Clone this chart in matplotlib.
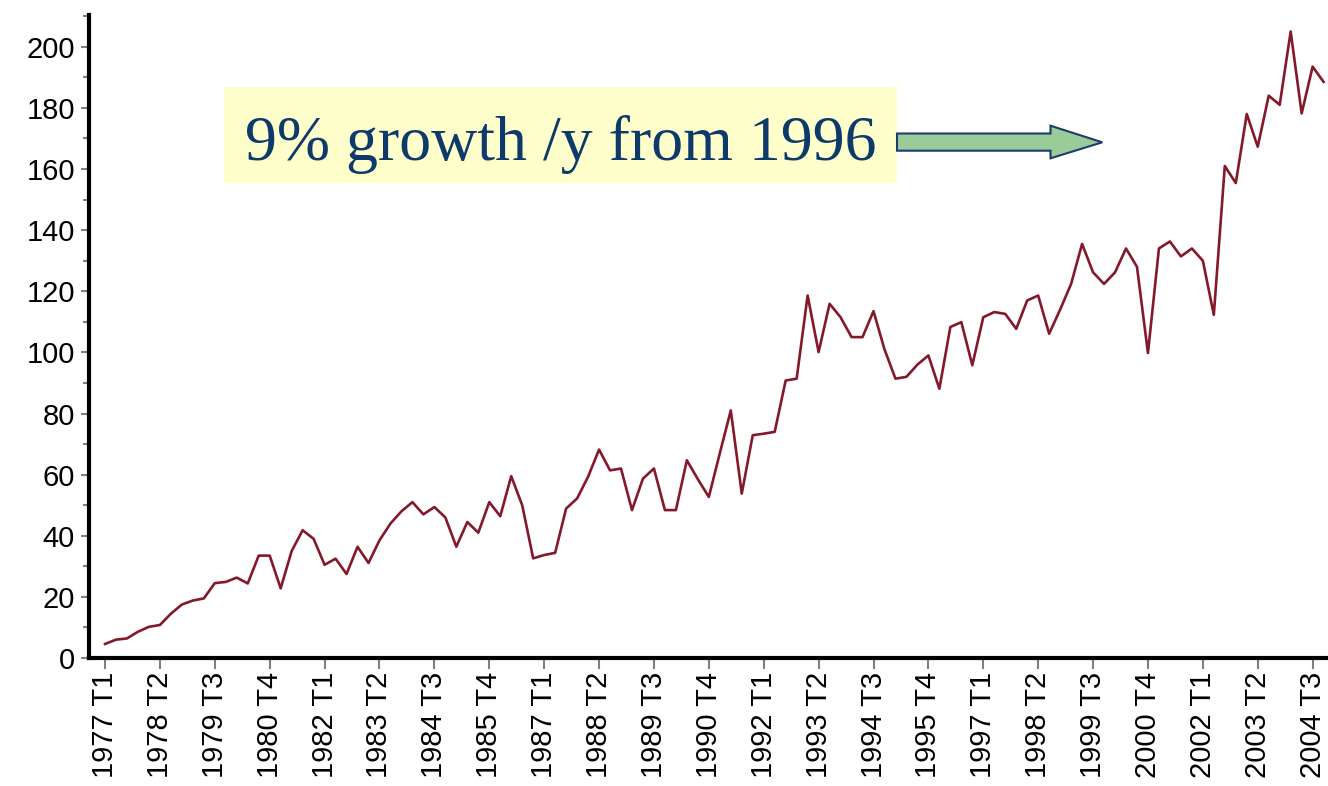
import matplotlib
matplotlib.use("Agg")
import matplotlib.pyplot as plt
from matplotlib import patches, transforms
from matplotlib.ticker import MultipleLocator

# quarterly index, 1977 T1 .. 2004 T4
values = [
    4.6, 6.0, 6.4, 8.6, 10.2, 10.8, 14.5, 17.5, 18.8, 19.5,
    24.5, 24.9, 26.3, 24.4, 33.5, 33.5, 22.8, 35.0, 41.8, 39.0,
    30.5, 32.5, 27.5, 36.4, 31.1, 38.5, 44.0, 48.0, 51.0, 47.0,
    49.4, 46.0, 36.4, 44.5, 41.0, 51.0, 46.4, 59.5, 50.0, 32.6,
    33.7, 34.4, 48.9, 52.2, 59.3, 68.2, 61.4, 62.0, 48.4, 58.7,
    62.0, 48.4, 48.4, 64.7, 58.5, 52.7, 67.0, 81.0, 53.8, 72.9,
    73.4, 74.0, 90.8, 91.4, 118.6, 100.1, 115.9, 111.5, 105.0, 105.0,
    113.5, 101.0, 91.4, 92.0, 96.0, 99.0, 88.1, 108.3, 109.9, 95.8,
    111.5, 113.2, 112.6, 107.7, 117.0, 118.6, 106.1, 114.0, 122.4, 135.5,
    126.2, 122.4, 126.2, 134.0, 128.0, 99.8, 134.0, 136.3, 131.4, 134.0,
    130.0, 112.3, 161.0, 155.4, 178.0, 167.3, 184.0, 181.0, 205.0, 178.2,
    193.5, 188.5,
]
tick_labels = [
    "1977 T1", "1978 T2", "1979 T3", "1980 T4", "1982 T1", "1983 T2",
    "1984 T3", "1985 T4", "1987 T1", "1988 T2", "1989 T3", "1990 T4",
    "1992 T1", "1993 T2", "1994 T3", "1995 T4", "1997 T1", "1998 T2",
    "1999 T3", "2000 T4", "2002 T1", "2003 T2", "2004 T3",
]
label_step = 5
note = "9% growth /y from 1996"

W, H = 1328, 786
fig = plt.figure(figsize=(W / 100, H / 100), dpi=100)
ax = fig.add_axes([89 / W, 1 - 658 / H, 1 - 89 / W, (658 - 15) / H])

ax.plot(range(len(values)), values, color="#84192B", lw=1.9)

ax.set_xlim(-1.46, 111.4)
ax.set_ylim(0, 210.4)
ax.set_xticks(range(0, label_step * len(tick_labels), label_step))
ax.set_xticklabels(tick_labels, rotation=90, family="Liberation Sans", fontsize=21)
ax.yaxis.set_major_locator(MultipleLocator(20))
ax.yaxis.set_minor_locator(MultipleLocator(10))
for lab in ax.get_yticklabels():
    lab.set_family("Liberation Sans")
    lab.set_fontsize(21)
ax.tick_params(axis="both", which="both", color="#808080", width=1.5)
ax.tick_params(axis="y", which="major", length=6, pad=4)
ax.tick_params(axis="y", which="minor", length=4)
ax.tick_params(axis="x", length=8, pad=2)
for s in ("top", "right"):
    ax.spines[s].set_visible(False)
for s in ("left", "bottom"):
    ax.spines[s].set_linewidth(3)
    ax.spines[s].set_color("black")

# annotation in pixel coordinates (y from top)
px = transforms.Affine2D().scale(1 / W, -1 / H).translate(0, 1) + fig.transFigure
fig.patches.append(patches.Rectangle((224, 87), 673, 96, transform=px,
                                     facecolor="#FFFFCC", edgecolor="none"))
fig.text(245, 160, note, transform=px, family="Liberation Serif", fontsize=46,
         color="#0E3A6B", ha="left", va="baseline")
arrow = [(897, 133.5), (1050.5, 133.5), (1050.5, 125.7), (1102.3, 142.3),
         (1050.5, 158.3), (1050.5, 150.7), (897, 150.7)]
fig.patches.append(patches.Polygon(arrow, closed=True, transform=px,
                                   facecolor="#99CC99", edgecolor="#1F3B6E", lw=1.5))

fig.savefig("out.png", dpi=100)
